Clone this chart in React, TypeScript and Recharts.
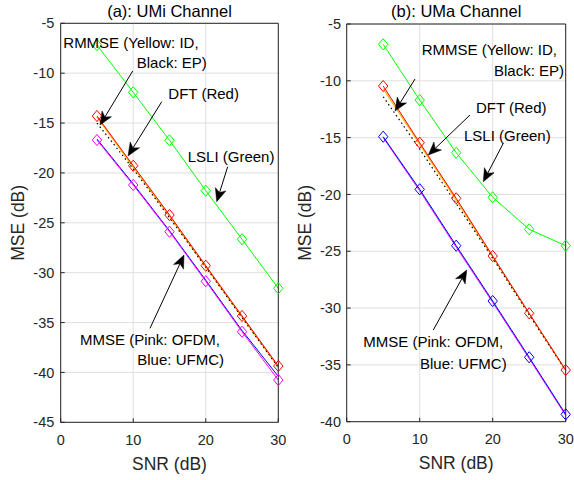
import React from 'react';
import { LineChart, Line, XAxis, YAxis, CartesianGrid, ReferenceLine, ReferenceDot } from 'recharts';

// ---------- data ----------
const snr = [5, 10, 15, 20, 25, 30];
const xTicks = [0, 10, 20, 30];
const umiYTicks = [-45, -40, -35, -30, -25, -20, -15, -10, -5];
const umaYTicks = [-40, -35, -30, -25, -20, -15, -10, -5];

const umiLsli = [-7.18, -11.92, -16.73, -21.78, -26.65, -31.57];
const umiDft = [-14.29, -19.28, -24.22, -29.3, -34.34, -39.36];
const umiRmmseId = [-14.4, -19.42, -24.36, -29.42, -34.46, -39.48];
const umiRmmseEp = [-15.0, -19.6, -24.5, -29.45, -34.5, -39.5];
const umiMmseOfdm = [-16.7, -21.21, -25.89, -30.86, -35.92, -40.76];
const umiMmseUfmc = [-16.6, -21.1, -25.8, -30.75, -35.8, -40.4];

const umaLsli = [-6.79, -11.69, -16.33, -20.25, -23.07, -24.51];
const umaDft = [-10.46, -15.45, -20.34, -25.42, -30.46, -35.45];
const umaRmmseId = [-10.7, -15.6, -20.5, -25.5, -30.5, -35.5];
const umaRmmseEp = [-11.4, -16.0, -20.8, -25.6, -30.6, -35.5];
const umaMmseOfdm = [-15.0, -19.68, -24.64, -29.5, -34.45, -39.45];
const umaMmseUfmc = [-14.92, -19.55, -24.51, -29.38, -34.33, -39.35];

const umiTitle = '(a): UMi Channel';
const umaTitle = '(b): UMa Channel';

// annotation texts (data coordinates of baseline start)
const umiNotes = [
  { x: 0.36, y: -7.45, text: 'RMMSE (Yellow: ID,' },
  { x: 10.48, y: -9.51, text: 'Black: EP)' },
  { x: 14.84, y: -12.59, text: 'DFT (Red)' },
  { x: 17.51, y: -18.87, text: 'LSLI (Green)' },
  { x: 2.66, y: -37.25, text: 'MMSE (Pink: OFDM,' },
  { x: 10.56, y: -39.26, text: 'Blue: UFMC)' },
];
const umiArrows = [
  { x1: 9.93, y1: -9.78, x2: 5.42, y2: -15.2 },
  { x1: 13.93, y1: -12.86, x2: 9.28, y2: -18.3 },
  { x1: 23.02, y1: -19.38, x2: 21.51, y2: -22.88 },
  { x1: 12.31, y1: -35.58, x2: 17.0, y2: -28.23 },
];
const umaNotes = [
  { x: 10.27, y: -7.73, text: 'RMMSE (Yellow: ID,' },
  { x: 20.18, y: -9.58, text: 'Black: EP)' },
  { x: 17.71, y: -12.8, text: 'DFT (Red)' },
  { x: 16.07, y: -15.27, text: 'LSLI (Green)' },
  { x: 2.27, y: -33.46, text: 'MMSE (Pink: OFDM,' },
  { x: 10.04, y: -35.39, text: 'Blue: UFMC)' },
];
const umaArrows = [
  { x1: 9.36, y1: -9.84, x2: 6.62, y2: -12.66 },
  { x1: 16.89, y1: -13.01, x2: 11.18, y2: -16.53 },
  { x1: 21.45, y1: -15.5, x2: 18.71, y2: -18.88 },
  { x1: 11.86, y1: -31.93, x2: 16.44, y2: -26.65 },
];

const buildRows = (cols: Record<string, number[]>) =>
  snr.map((s, i) => {
    const row: Record<string, number> = { snr: s };
    Object.keys(cols).forEach((k) => (row[k] = cols[k][i]));
    return row;
  });

const umiRows = buildRows({
  lsli: umiLsli, dft: umiDft, id: umiRmmseId, ep: umiRmmseEp, ofdm: umiMmseOfdm, ufmc: umiMmseUfmc,
});
const umaRows = buildRows({
  lsli: umaLsli, dft: umaDft, id: umaRmmseId, ep: umaRmmseEp, ofdm: umaMmseOfdm, ufmc: umaMmseUfmc,
});

// ---------- styles ----------
const FONT = '"Liberation Sans", Arial, Helvetica, sans-serif';
const AX = '#262626';
const GRID = '#dfdfdf';

const diamond = (color: string) => (props: any) => {
  const { cx, cy, index } = props;
  if (cx == null || cy == null) return <g key={`d${index}`} />;
  return (
    <path
      key={`d${index}`}
      d={`M${cx},${cy - 5.6}L${cx + 4.7},${cy}L${cx},${cy + 5.6}L${cx - 4.7},${cy}Z`}
      fill="none"
      stroke={color}
      strokeWidth={1}
    />
  );
};

const arrowShape = (props: any) => {
  const { x1, y1, x2, y2 } = props;
  if ([x1, y1, x2, y2].some((v) => v == null || isNaN(v))) return <g />;
  const dx = x2 - x1;
  const dy = y2 - y1;
  const len = Math.hypot(dx, dy) || 1;
  const ux = dx / len;
  const uy = dy / len;
  const px = -uy;
  const py = ux;
  const L = 13;
  const W = 5.5;
  const back = 3.5;
  const bx = x2 - ux * L;
  const by = y2 - uy * L;
  const nx = x2 - ux * (L - back);
  const ny = y2 - uy * (L - back);
  const pts = `${x2},${y2} ${bx + px * W},${by + py * W} ${nx},${ny} ${bx - px * W},${by - py * W}`;
  return (
    <g>
      <line x1={x1} y1={y1} x2={nx} y2={ny} stroke="#000" strokeWidth={1} />
      <polygon points={pts} fill="#000" stroke="#000" strokeWidth={0.5} />
    </g>
  );
};

const noteShape = (text: string) => (props: any) => {
  const { cx, cy } = props;
  if (cx == null || cy == null) return <g />;
  return (
    <text x={cx} y={cy} fontFamily={FONT} fontSize={15} fill="#000" textAnchor="start">
      {text}
    </text>
  );
};

type PanelProps = {
  rows: any[];
  yTicks: number[];
  yDomain: [number, number];
  title: string;
  notes: { x: number; y: number; text: string }[];
  arrows: { x1: number; y1: number; x2: number; y2: number }[];
  width: number;
  plotLeft: number;
  plotRight: number;
  plotTop: number;
  plotBottom: number;
  xTickMargin: number;
  yTickMargin: number;
  yLabelX: number;
  pinkOnTop: boolean;
};

const Panel = (p: PanelProps) => {
  const H = 480;
  const xAxisH = 41;
  const margin = {
    top: p.plotTop - 1,
    right: p.width - p.plotRight - 1,
    bottom: H - p.plotBottom - xAxisH,
    left: 0,
  };
  const cx = (p.plotLeft + p.plotRight) / 2;
  const cy = (p.plotTop + p.plotBottom) / 2;
  const tickStyle = { fontFamily: FONT, fontSize: 14.5, fill: AX };

  const blueLine = (
    <Line
      key="ufmc"
      dataKey="ufmc"
      type="linear"
      stroke="#0000ff"
      strokeWidth={1}
      dot={p.pinkOnTop ? false : diamond('#0000ff')}
      activeDot={false}
      isAnimationActive={false}
    />
  );
  const pinkLine = (
    <Line
      key="ofdm"
      dataKey="ofdm"
      type="linear"
      stroke="#ff00ff"
      strokeWidth={1}
      dot={p.pinkOnTop ? diamond('#ff00ff') : false}
      activeDot={false}
      isAnimationActive={false}
    />
  );

  return (
    <LineChart width={p.width} height={H} data={p.rows} margin={margin}>
      <CartesianGrid stroke={GRID} strokeWidth={1} />
      <XAxis
        dataKey="snr"
        type="number"
        domain={[0, 30]}
        ticks={xTicks}
        height={xAxisH}
        axisLine={{ stroke: AX }}
        tickLine={{ stroke: AX }}
        tickSize={-4}
        tickMargin={p.xTickMargin}
        tick={tickStyle}
        interval={0}
        label={() => (
          <text x={cx} y={p.plotBottom + 47.7} textAnchor="middle" fontFamily={FONT} fontSize={17.5} fill={AX}>
            SNR (dB)
          </text>
        )}
      />
      <XAxis
        xAxisId="top"
        orientation="top"
        type="number"
        domain={[0, 30]}
        ticks={xTicks}
        height={1}
        axisLine={{ stroke: AX }}
        tickLine={{ stroke: AX }}
        tickSize={-4}
        tick={false}
        interval={0}
        label={() => (
          <text x={cx} y={16.5} textAnchor="middle" fontFamily={FONT} fontSize={16.5} fill="#000">
            {p.title}
          </text>
        )}
      />
      <YAxis
        type="number"
        domain={p.yDomain}
        ticks={p.yTicks}
        width={p.plotLeft}
        axisLine={{ stroke: AX }}
        tickLine={{ stroke: AX }}
        tickSize={-4}
        tickMargin={p.yTickMargin}
        tick={tickStyle}
        interval={0}
        allowDataOverflow
        label={() => (
          <text
            x={p.yLabelX}
            y={cy}
            transform={`rotate(-90 ${p.yLabelX} ${cy})`}
            textAnchor="middle"
            fontFamily={FONT}
            fontSize={17.5}
            fill={AX}
          >
            MSE (dB)
          </text>
        )}
      />
      <YAxis
        yAxisId="right"
        orientation="right"
        type="number"
        domain={p.yDomain}
        ticks={p.yTicks}
        width={1}
        axisLine={{ stroke: AX }}
        tickLine={{ stroke: AX }}
        tickSize={-4}
        tick={false}
        interval={0}
        allowDataOverflow
      />
      <Line
        dataKey="lsli"
        type="linear"
        stroke="#00ff00"
        strokeWidth={1}
        dot={diamond('#00ff00')}
        activeDot={false}
        isAnimationActive={false}
      />
      {p.pinkOnTop ? blueLine : pinkLine}
      {p.pinkOnTop ? pinkLine : blueLine}
      <Line
        dataKey="id"
        type="linear"
        stroke="#f5b800"
        strokeWidth={1.2}
        dot={false}
        activeDot={false}
        isAnimationActive={false}
      />
      <Line
        dataKey="ep"
        type="linear"
        stroke="#000000"
        strokeWidth={1.2}
        strokeDasharray="1.5 3"
        dot={false}
        activeDot={false}
        isAnimationActive={false}
      />
      <Line
        dataKey="dft"
        type="linear"
        stroke="#ff0000"
        strokeWidth={1}
        dot={diamond('#ff0000')}
        activeDot={false}
        isAnimationActive={false}
      />
      {p.arrows.map((a, i) => (
        <ReferenceLine
          key={`a${i}`}
          segment={[
            { x: a.x1, y: a.y1 },
            { x: a.x2, y: a.y2 },
          ]}
          shape={arrowShape}
          ifOverflow="visible"
        />
      ))}
      {p.notes.map((n, i) => (
        <ReferenceDot
          key={`n${i}`}
          x={n.x}
          y={n.y}
          r={1}
          ifOverflow="visible"
          shape={noteShape(n.text)}
        />
      ))}
    </LineChart>
  );
};

export default function App() {
  return (
    <div
      style={{
        position: 'absolute',
        left: 0,
        top: 0,
        width: 574,
        height: 480,
        background: '#ffffff',
        overflow: 'hidden',
      }}
    >
      <div style={{ position: 'absolute', left: 0, top: 0 }}>
        <Panel
          rows={umiRows}
          yTicks={umiYTicks}
          yDomain={[-45, -5]}
          title={umiTitle}
          notes={umiNotes}
          arrows={umiArrows}
          width={290}
          plotLeft={60.7}
          plotRight={278.3}
          plotTop={23.3}
          plotBottom={422.3}
          xTickMargin={16.7}
          yTickMargin={10.4}
          yLabelX={24}
          pinkOnTop={true}
        />
      </div>
      <div style={{ position: 'absolute', left: 290, top: 0 }}>
        <Panel
          rows={umaRows}
          yTicks={umaYTicks}
          yDomain={[-40, -5]}
          title={umaTitle}
          notes={umaNotes}
          arrows={umaArrows}
          width={284}
          plotLeft={56.7}
          plotRight={275.7}
          plotTop={24}
          plotBottom={421.7}
          xTickMargin={15.6}
          yTickMargin={9.7}
          yLabelX={20.7}
          pinkOnTop={false}
        />
      </div>
    </div>
  );
}
